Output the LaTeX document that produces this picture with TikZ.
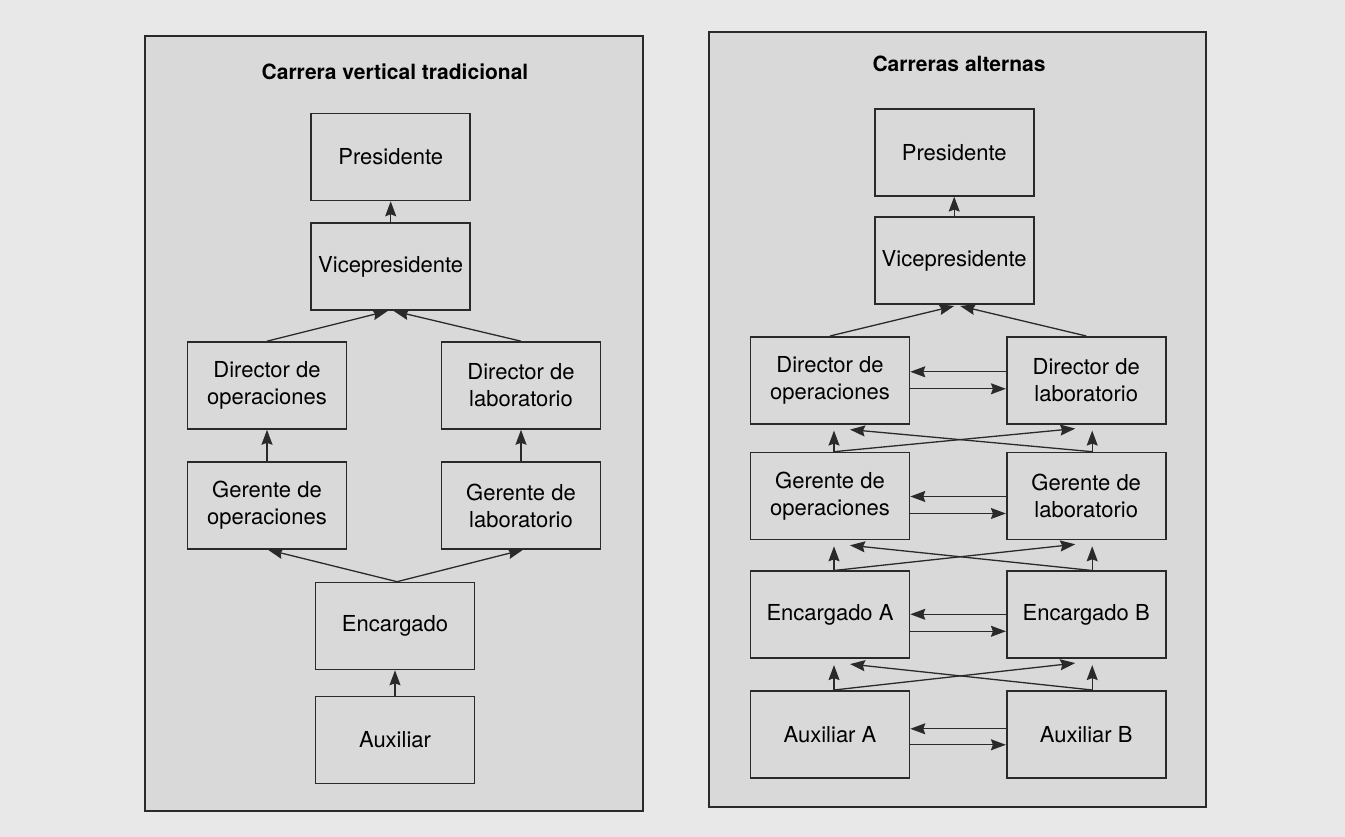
\documentclass[tikz,border=0pt]{standalone}
\usepackage{fontspec}
\setmainfont{TeX Gyre Heros}
\usetikzlibrary{arrows.meta}

\definecolor{bgouter}{HTML}{E8E8E8}
\definecolor{panelgray}{HTML}{D9D9D9}
\definecolor{linegray}{HTML}{2A2A2A}

\begin{document}
\begin{tikzpicture}[x=1pt, y=1pt,
    panel/.style={draw=linegray, line width=1.5pt, fill=panelgray},
    title/.style={font=\fontsize{21}{25}\selectfont\bfseries, anchor=base, inner sep=0pt},
    box/.style={draw=linegray, line width=1.6pt, minimum width=159pt, minimum height=87pt,
        inner sep=0pt, align=center, font=\fontsize{22}{27}\selectfont},
    arr/.style={-{Stealth[length=15pt, width=11pt, inset=2pt]}, line width=1.3pt, draw=linegray}]

    % Background and panels
    \fill[bgouter] (0,0) rectangle (1345,837);
    \useasboundingbox (0,0) rectangle (1345,837);
    \draw[panel] (145,26) rectangle (643,801);
    \draw[panel] (709,30) rectangle (1206,805);

    % Titles
    \node[title] (ltitle) at (395,757) {Carrera vertical tradicional};
    \node[title] (rtitle) at (959,765) {Carreras alternas};

    % Left: traditional ladder
    \node[box] (lpres) at (390.7,680) {Presidente};
    \node[box] (lvice) at (390.7,570.3) {Vicepresidente};
    \node[box] (ldop) at (267,451.5) {Director de\\operaciones};
    \node[box] (ldlab) at (521,451.5) {Director de\\laboratorio};
    \node[box] (lgop) at (267,331.5) {Gerente de\\operaciones};
    \node[box] (lglab) at (521,331.5) {Gerente de\\laboratorio};
    \node[box] (lenc) at (395,211) {Encargado};
    \node[box] (laux) at (395,97) {Auxiliar};

    \draw[arr] (lvice.north) -- (lpres.south);
    \draw[arr] (ldop.north) -- ([xshift=-3pt]lvice.south);
    \draw[arr] (ldlab.north) -- ([xshift=3pt]lvice.south);
    \draw[arr] (lgop.north) -- (ldop.south);
    \draw[arr] (lglab.north) -- (ldlab.south);
    \draw[arr] ([xshift=2pt]lenc.north) -- ([xshift=1pt]lgop.south);
    \draw[arr] ([xshift=2pt]lenc.north) -- ([xshift=2pt]lglab.south);
    \draw[arr] (laux.north) -- (lenc.south);

    % Right: alternative paths
    \node[box] (rpres) at (954.2,684.7) {Presidente};
    \node[box] (rvice) at (954.2,576.3) {Vicepresidente};
    \node[box] (rdop) at (830,456.7) {Director de\\operaciones};
    \node[box] (rdlab) at (1086.2,456.7) {Director de\\laboratorio};
    \node[box] (rgop) at (830,341) {Gerente de\\operaciones};
    \node[box] (rglab) at (1086.2,341) {Gerente de\\laboratorio};
    \node[box] (renca) at (830,222.2) {Encargado A};
    \node[box] (rencb) at (1086.2,222.2) {Encargado B};
    \node[box] (rauxa) at (830,102.7) {Auxiliar A};
    \node[box] (rauxb) at (1086.2,102.7) {Auxiliar B};

    \draw[arr] (rvice.north) -- (rpres.south);
    \draw[arr] (rdop.north) -- ([yshift=-1pt]rvice.south);
    \draw[arr] (rdlab.north) -- ([xshift=6pt,yshift=-1pt]rvice.south);

    % side moves between columns
    \foreach \a/\b/\up/\dn in {rdop/rdlab/8.5/-8.5, rgop/rglab/-0.5/-17.5,
        renca/rencb/0.5/-16.5, rauxa/rauxb/5.5/-10.5} {
        \draw[arr] ([yshift=\up pt]\b.west) -- ([yshift=\up pt]\a.east);
        \draw[arr] ([yshift=\dn pt]\a.east) -- ([yshift=\dn pt]\b.west);
    }

    % upward and crossing moves
    \foreach \lo/\hi/\rlo/\rhi in {rgop/rdop/rglab/rdlab, renca/rgop/rencb/rglab,
        rauxa/renca/rauxb/rencb} {
        \draw[arr] ([xshift=4pt]\lo.north) -- ([xshift=4pt,yshift=-6pt]\hi.south);
        \draw[arr] ([xshift=4pt]\lo.north) -- ([xshift=-11pt,yshift=-4pt]\rhi.south);
        \draw[arr] ([xshift=6pt]\rlo.north) -- ([xshift=6pt,yshift=-6pt]\rhi.south);
        \draw[arr] ([xshift=6pt]\rlo.north) -- ([xshift=20pt,yshift=-5pt]\hi.south);
    }
\end{tikzpicture}
\end{document}
